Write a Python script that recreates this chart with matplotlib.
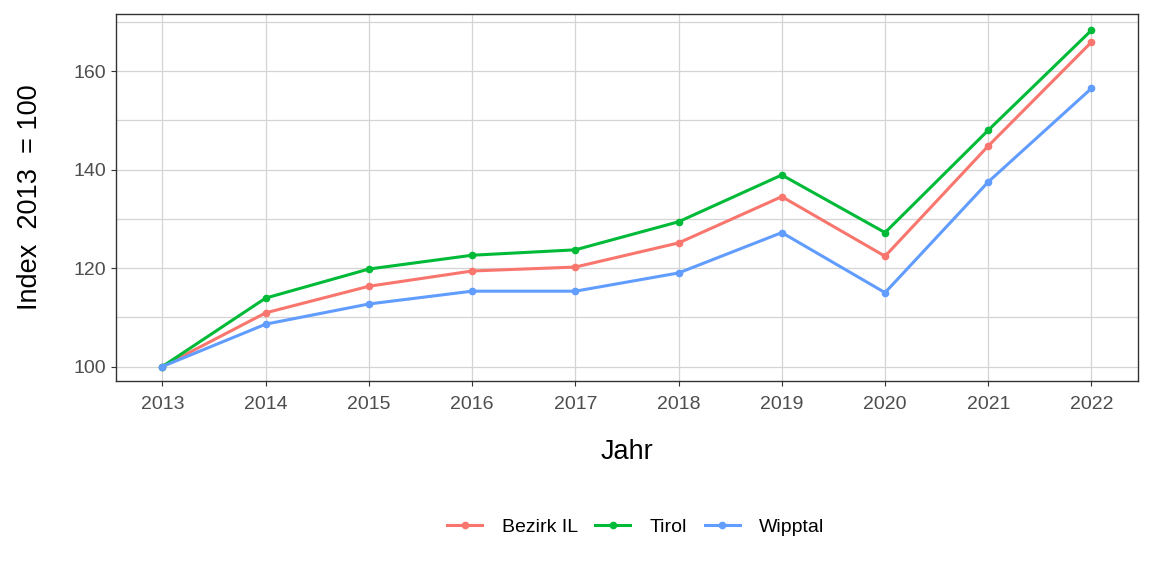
import matplotlib
matplotlib.use("Agg")
import matplotlib.pyplot as plt
from matplotlib.ticker import MultipleLocator

plt.rcParams["font.family"] = ["Liberation Sans", "DejaVu Sans"]

years = [2013, 2014, 2015, 2016, 2017, 2018, 2019, 2020, 2021, 2022]
bezirk_il = [100, 110.9, 116.3, 119.4, 120.2, 125.1, 134.5, 122.4, 144.8, 165.9]
tirol = [100, 113.9, 119.8, 122.6, 123.7, 129.4, 138.9, 127.2, 148.0, 168.3]
wipptal = [100, 108.6, 112.7, 115.3, 115.3, 119.0, 127.2, 115.0, 137.5, 156.5]

series = [
    ("Bezirk IL", bezirk_il, "#F8766D"),
    ("Tirol", tirol, "#00BA38"),
    ("Wipptal", wipptal, "#619CFF"),
]

fig = plt.figure(figsize=(11.52, 5.76), dpi=100)
ax = fig.add_axes([0.1007, 0.3385, 0.8871, 0.6372])

for name, vals, col in series:
    ax.plot(years, vals, color=col, lw=2.2, marker="o", ms=4.5, label=name)

ax.set_xlim(2012.55, 2022.45)
ax.set_ylim(97.05, 171.6)
ax.set_xticks(years)
ax.yaxis.set_major_locator(MultipleLocator(20))
ax.yaxis.set_minor_locator(MultipleLocator(10))
ax.grid(True, which="major", color="#D4D4D4", lw=0.9)
ax.grid(True, which="minor", axis="y", color="#D4D4D4", lw=0.9)
ax.set_axisbelow(True)
for s in ax.spines.values():
    s.set_color("#333333")
    s.set_linewidth(1.0)
ax.tick_params(axis="both", which="major", labelsize=14, labelcolor="#4D4D4D",
               color="#333333", length=3.5, pad=3.5)
ax.tick_params(axis="x", which="major", pad=7)
ax.tick_params(axis="y", which="minor", length=0)

ax.set_xlabel("Jahr", fontsize=19.5, labelpad=19)
ax.set_ylabel("Index  2013  = 100", fontsize=19.5, labelpad=22)

fig.legend(loc="center", bbox_to_anchor=(0.552, 0.085), ncol=3, frameon=False,
           fontsize=14, handlelength=1.8, columnspacing=0.9, handletextpad=1.0)

fig.savefig("out.png", dpi=100)
